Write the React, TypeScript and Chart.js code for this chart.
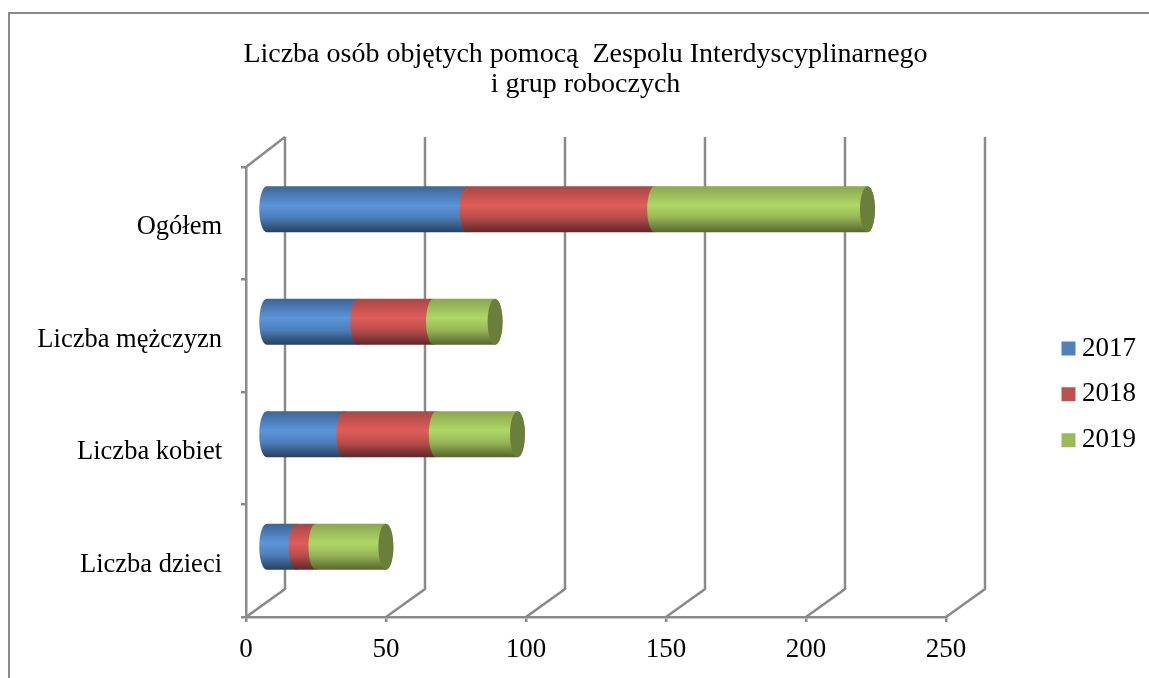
import React, { useEffect, useRef } from "react";
import { Chart, registerables, layouts } from "chart.js";

Chart.register(...registerables);

const titleLines = ["Liczba osób objętych pomocą  Zespolu Interdyscyplinarnego", "i grup roboczych"];
const categories = ["Ogółem", "Liczba mężczyzn", "Liczba kobiet", "Liczba dzieci"];
const series2017 = [72, 33, 28, 11];
const series2018 = [67, 27, 33, 7];
const series2019 = [76, 22, 29, 25];
const seriesLabels = ["2017", "2018", "2019"];
const seriesColors = ["#4f81bd", "#c0504d", "#9bbb59"];
const gradientStops = [
  ["#3d6594", "#5c95da", "#4d7fb8", "#27405f"],
  ["#a64846", "#e05d5a", "#b94e4b", "#5f2827"],
  ["#8aa74f", "#b0d766", "#97b656", "#55672f"],
];
const capColor = "#6b7f3c";
const gridColor = "#8a8a8a";
const FONT = "'Liberation Serif'";

const DEPTH_X = 39;
const DEPTH_TOP = 30;
const DEPTH_BOTTOM = 28;
const BAR_DX = 19.5;
const BAR_DY = -14;
const CAP_RX = 7.5;
const SPACER = 103.7;

const cylinderPlugin = {
  id: "cylinder3d",
  beforeDraw(chart: any) {
    const { ctx } = chart;
    ctx.save();
    ctx.strokeStyle = gridColor;
    ctx.lineWidth = 2;
    ctx.strokeRect(9, 13, 3000, 3000);
    ctx.restore();
  },
  beforeDatasetsDraw(chart: any) {
    const { ctx, chartArea, scales } = chart;
    const { top, bottom, left } = chartArea;
    ctx.save();
    ctx.strokeStyle = gridColor;
    ctx.lineWidth = 2.5;
    ctx.beginPath();
    ctx.moveTo(left, top);
    ctx.lineTo(left + DEPTH_X, top - DEPTH_TOP);
    for (const t of scales.x.ticks) {
      const x = scales.x.getPixelForValue(t.value);
      ctx.moveTo(x, bottom);
      ctx.lineTo(x + DEPTH_X, bottom - DEPTH_BOTTOM);
      ctx.lineTo(x + DEPTH_X, top - DEPTH_TOP);
    }
    ctx.stroke();
    ctx.restore();

    const lastIndex = chart.data.datasets.length - 1;
    chart.data.datasets.forEach((_: any, d: number) => {
      const meta = chart.getDatasetMeta(d);
      meta.data.forEach((el: any) => {
        const h = el.height;
        const y0 = el.y + BAR_DY - h / 2;
        const y1 = y0 + h;
        const cy = (y0 + y1) / 2;
        const xa = el.base + BAR_DX;
        const xb = el.x + BAR_DX;
        const g = ctx.createLinearGradient(0, y0, 0, y1);
        const s = gradientStops[d];
        g.addColorStop(0, s[0]);
        g.addColorStop(0.42, s[1]);
        g.addColorStop(0.68, s[2]);
        g.addColorStop(1, s[3]);
        ctx.save();
        ctx.fillStyle = g;
        ctx.beginPath();
        ctx.ellipse(xa, cy, CAP_RX, h / 2, 0, Math.PI / 2, (3 * Math.PI) / 2);
        ctx.lineTo(xb, y0);
        ctx.ellipse(xb, cy, CAP_RX, h / 2, 0, -Math.PI / 2, Math.PI / 2);
        ctx.closePath();
        ctx.fill();
        if (d === lastIndex) {
          ctx.fillStyle = capColor;
          ctx.beginPath();
          ctx.ellipse(xb, cy, CAP_RX, h / 2, 0, 0, Math.PI * 2);
          ctx.fill();
        }
        ctx.restore();
      });
    });
    return false;
  },
};

export default function App() {
  const ref = useRef<HTMLCanvasElement>(null);
  useEffect(() => {
    if (!ref.current) return;
    const spacer: any = {
      position: "right",
      weight: 1,
      fullSize: false,
      options: {},
      width: SPACER,
      height: 0,
      isHorizontal() {
        return false;
      },
      update(_w: number, h: number) {
        this.width = SPACER;
        this.height = h;
        return {};
      },
      draw() {},
    };
    const spacerPlugin = {
      id: "spacer",
      start(chart: any) {
        layouts.addBox(chart, spacer);
      },
    };
    const chart = new Chart(ref.current, {
      type: "bar",
      data: {
        labels: categories,
        datasets: [series2017, series2018, series2019].map((data, i) => ({
          label: seriesLabels[i],
          data,
          backgroundColor: seriesColors[i],
          borderWidth: 0,
          categoryPercentage: 1,
          barPercentage: 0.409,
        })),
      },
      options: {
        indexAxis: "y",
        responsive: false,
        animation: false,
        layout: { padding: { left: 25, right: 3, top: 0, bottom: 0 } },
        plugins: {
          title: {
            display: true,
            text: titleLines,
            color: "#000",
            font: { family: FONT, size: 28, weight: "normal", lineHeight: 1.07 },
            padding: { top: 40, bottom: 67 },
          },
          legend: {
            position: "right",
            fullSize: false,
            title: { display: true, text: " ", font: { size: 4 }, padding: 0 },
            labels: {
              color: "#000",
              font: { family: FONT, size: 27 },
              usePointStyle: true,
              pointStyle: "rect",
              boxWidth: 0.01,
              boxHeight: 14,
              padding: 18.8,
            },
          },
          tooltip: { enabled: false },
        },
        scales: {
          x: {
            stacked: true,
            min: 0,
            max: 250,
            ticks: { stepSize: 50, color: "#000", font: { family: FONT, size: 27 }, padding: 12, maxRotation: 0 },
            grid: { drawOnChartArea: false, drawTicks: true, tickLength: 5, color: gridColor, lineWidth: 2.5 },
            border: { color: gridColor, width: 2.5 },
            afterFit(s: any) {
              s.height = 61;
            },
          },
          y: {
            stacked: true,
            ticks: { color: "#000", font: { family: FONT, size: 26.5 }, padding: 19, labelOffset: 4 },
            grid: { drawOnChartArea: false, drawTicks: true, tickLength: 5, color: gridColor, lineWidth: 2.5 },
            border: { color: gridColor, width: 2.5 },
            afterFit(s: any) {
              s.width = 221;
            },
          },
        },
      } as any,
      plugins: [cylinderPlugin as any, spacerPlugin as any],
    });
    return () => chart.destroy();
  }, []);
  return (
    <div style={{ position: "absolute", left: 0, top: 0, width: 1149, height: 678 }}>
      <canvas ref={ref} width={1149} height={678} style={{ display: "block", background: "#fff" }} />
    </div>
  );
}
